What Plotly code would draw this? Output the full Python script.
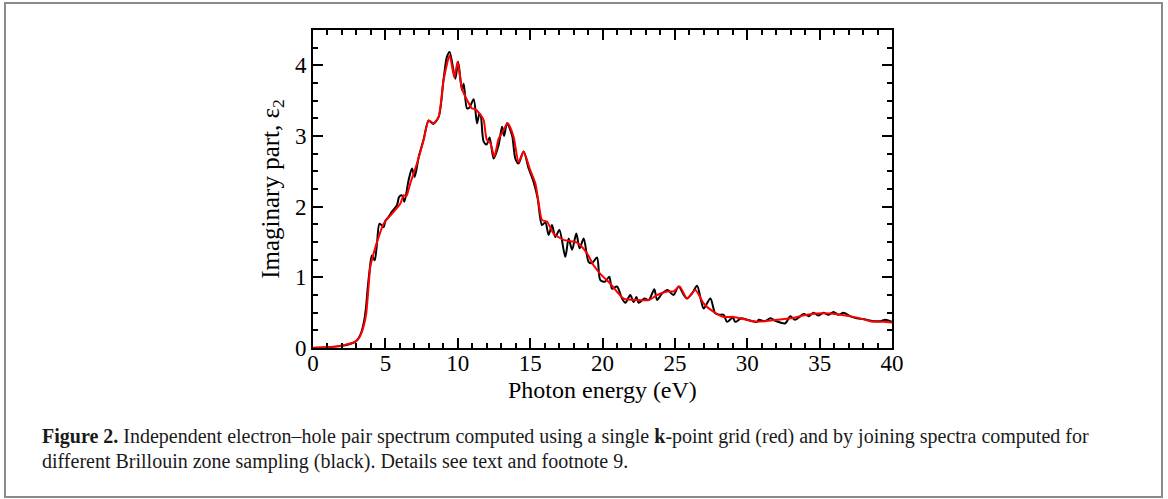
import plotly.graph_objects as go

# ---- data ----
black_e = [0.0, 1.0, 2.0, 2.6, 3.0, 3.3, 3.5, 3.65, 3.78, 3.91, 4.07, 4.26, 4.42, 4.6, 4.88,
           5.0, 5.2, 5.46, 5.8, 5.95, 6.15, 6.31, 6.6, 6.84, 7.02, 7.3, 7.64, 7.99, 8.3, 8.68,
           9.02, 9.25, 9.44, 9.83, 10.03, 10.29, 10.41, 10.64, 10.8, 11.1, 11.33, 11.5, 11.6,
           11.79, 12.0, 12.2, 12.48, 12.82, 13.06, 13.2, 13.4, 13.75, 13.98, 14.2, 14.55, 14.9,
           15.24, 15.52, 15.82, 16.05, 16.28, 16.51, 16.74, 17.02, 17.43, 17.66, 17.9, 18.19,
           18.42, 18.7, 19.04, 19.27, 19.62, 19.85, 20.19, 20.47, 20.66, 21.0, 21.35, 21.58,
           21.92, 22.15, 22.34, 22.5, 22.9, 23.2, 23.58, 23.77, 24.11, 24.5, 24.9, 25.26, 25.65,
           25.84, 26.18, 26.53, 26.8, 26.99, 27.45, 27.79, 28.1, 28.37, 28.6, 29.0, 29.17, 29.6,
           30.0, 30.67, 30.8, 31.2, 31.6, 32.0, 32.63, 32.97, 33.3, 33.9, 34.26, 34.58, 34.9,
           35.27, 35.6, 35.96, 36.3, 36.65, 37.1, 37.58, 38.0, 38.7, 39.2, 39.54, 40.0]
black_v = [0.0, 0.01, 0.03, 0.06, 0.1, 0.2, 0.35, 0.55, 0.85, 1.10, 1.31, 1.24, 1.48, 1.76, 1.71,
           1.80, 1.85, 1.93, 2.02, 2.14, 2.16, 2.07, 2.37, 2.54, 2.42, 2.70, 2.95, 3.22, 3.17, 3.27,
           3.80, 4.12, 4.19, 3.81, 4.05, 3.65, 3.74, 3.39, 3.40, 3.52, 3.18, 3.32, 3.28,
           2.92, 2.88, 2.98, 2.68, 2.87, 3.13, 3.00, 3.18, 3.01, 2.68, 2.61, 2.78, 2.54,
           2.35, 2.12, 1.74, 1.78, 1.60, 1.74, 1.57, 1.67, 1.29, 1.55, 1.39, 1.62,
           1.41, 1.55, 1.22, 1.20, 1.28, 0.96, 0.94, 1.01, 0.84, 0.87, 0.70, 0.64,
           0.75, 0.65, 0.72, 0.64, 0.70, 0.68, 0.83, 0.68, 0.77, 0.82, 0.75, 0.87, 0.74,
           0.70, 0.77, 0.88, 0.68, 0.56, 0.70, 0.49, 0.47, 0.47, 0.37, 0.43, 0.37, 0.42,
           0.40, 0.37, 0.40, 0.38, 0.42, 0.38, 0.35, 0.45, 0.40, 0.48, 0.45, 0.50, 0.46,
           0.50, 0.47, 0.51, 0.47, 0.50, 0.45, 0.42, 0.41, 0.38, 0.38, 0.40, 0.37]

red_e = [0.0, 1.0, 2.1, 2.92, 3.2, 3.38, 3.55, 3.68, 3.84, 3.96, 4.19, 4.47, 4.88, 5.46, 6.03,
         6.26, 6.45, 6.72, 7.18, 7.64, 7.99, 8.33, 8.68, 9.02, 9.44, 9.76, 9.99, 10.29, 10.64,
         10.98, 11.2, 11.67, 11.8, 12.0, 12.25, 12.53, 12.82, 13.05, 13.45, 13.86, 14.2, 14.55,
         15.0, 15.36, 15.59, 15.82, 16.16, 16.62, 17.31, 18.24, 18.93, 19.38, 19.85, 20.54,
         21.46, 22.38, 23.2, 23.77, 24.46, 24.9, 25.33, 25.84, 26.41, 26.99, 27.68, 28.37,
         29.06, 30.67, 32.05, 32.97, 34.13, 35.27, 36.43, 37.58, 38.5, 39.4, 40.0]
red_v = [0.005, 0.01, 0.04, 0.09, 0.15, 0.23, 0.35, 0.49, 0.87, 1.15, 1.34, 1.53, 1.76, 1.90, 2.04,
         2.16, 2.15, 2.33, 2.61, 2.94, 3.22, 3.18, 3.27, 3.79, 4.14, 3.83, 4.05, 3.67, 3.51,
         3.39, 3.38, 3.27, 3.22, 2.95, 2.90, 2.71, 2.96, 3.04, 3.18, 2.99, 2.63, 2.78,
         2.52, 2.33, 2.05, 1.81, 1.79, 1.62, 1.53, 1.49, 1.34, 1.17, 1.05, 0.91,
         0.70, 0.68, 0.68, 0.75, 0.80, 0.80, 0.87, 0.70, 0.82, 0.63, 0.51, 0.44,
         0.44, 0.37, 0.40, 0.42, 0.47, 0.49, 0.47, 0.43, 0.38, 0.37, 0.36]

x_ticks = [0, 5, 10, 15, 20, 25, 30, 35, 40]
y_ticks = [0, 1, 2, 3, 4]

x_title = "Photon energy (eV)"
y_title = "Imaginary part, ε<sub>2</sub>"
caption1 = ("<b>Figure 2.</b> Independent electron–hole pair spectrum computed using a single "
            "<b>k</b>-point grid (red) and by joining spectra computed for")
caption2 = "different Brillouin zone sampling (black). Details see text and footnote 9."

SERIF = "Liberation Serif, Times New Roman, serif"

fig = go.Figure()
fig.add_trace(go.Scatter(x=black_e, y=black_v, mode="lines",
                         line=dict(color="black", width=2, shape="spline", smoothing=0.8),
                         showlegend=False, hoverinfo="skip"))
fig.add_trace(go.Scatter(x=red_e, y=red_v, mode="lines",
                         line=dict(color="#ff0000", width=2, shape="spline", smoothing=0.6),
                         showlegend=False, hoverinfo="skip"))

L, T, R, B = 313, 30, 1168 - 892, 499 - 348
W, H = 1168 - L - R, 499 - T - B

axis_common = dict(showline=True, linecolor="black", linewidth=2, mirror="allticks",
                   ticks="inside", ticklen=10, tickwidth=2, tickcolor="black",
                   showgrid=False, zeroline=False,
                   tickfont=dict(family=SERIF, size=23, color="black"))

fig.update_xaxes(range=[0, 40], tickvals=x_ticks, ticklabelstandoff=-7,
                 minor=dict(ticks="inside", ticklen=5, tickwidth=2, tickcolor="black", dtick=1,
                            showgrid=False),
                 **axis_common)
fig.update_yaxes(range=[0, 4.5], tickvals=y_ticks,
                 minor=dict(ticks="inside", ticklen=5, tickwidth=2, tickcolor="black", dtick=0.25,
                            showgrid=False),
                 title=dict(text=y_title, font=dict(family=SERIF, size=25, color="black"),
                            standoff=8),
                 **axis_common)


def px_to_paper_x(px):
    return (px - L) / W


def px_to_paper_y(py):
    return (499 - B - py) / H


fig.add_shape(type="rect", xref="paper", yref="paper",
              x0=px_to_paper_x(5), x1=px_to_paper_x(1162),
              y0=px_to_paper_y(497), y1=px_to_paper_y(3),
              line=dict(color="#8a8a8a", width=2), layer="below")

# x-axis title placed just under the tick labels
fig.add_annotation(text=x_title, xref="paper", yref="paper",
                   x=0.5, y=px_to_paper_y(375), xanchor="center", yanchor="top",
                   showarrow=False, font=dict(family=SERIF, size=24, color="black"))

fig.add_annotation(text=caption1, xref="paper", yref="paper",
                   x=px_to_paper_x(40), y=px_to_paper_y(436), xanchor="left", yanchor="middle",
                   showarrow=False, font=dict(family=SERIF, size=20, color="#1a1a1a"))
fig.add_annotation(text=caption2, xref="paper", yref="paper",
                   x=px_to_paper_x(40), y=px_to_paper_y(461), xanchor="left", yanchor="middle",
                   showarrow=False, font=dict(family=SERIF, size=20, color="#1a1a1a"))

fig.update_layout(width=1168, height=499,
                  margin=dict(l=L, r=R, t=T, b=B, autoexpand=False),
                  paper_bgcolor="white", plot_bgcolor="white")

fig.write_html("out.html", config={"displayModeBar": False},
               post_script="document.body.style.margin='0';document.body.style.overflow='hidden';")
